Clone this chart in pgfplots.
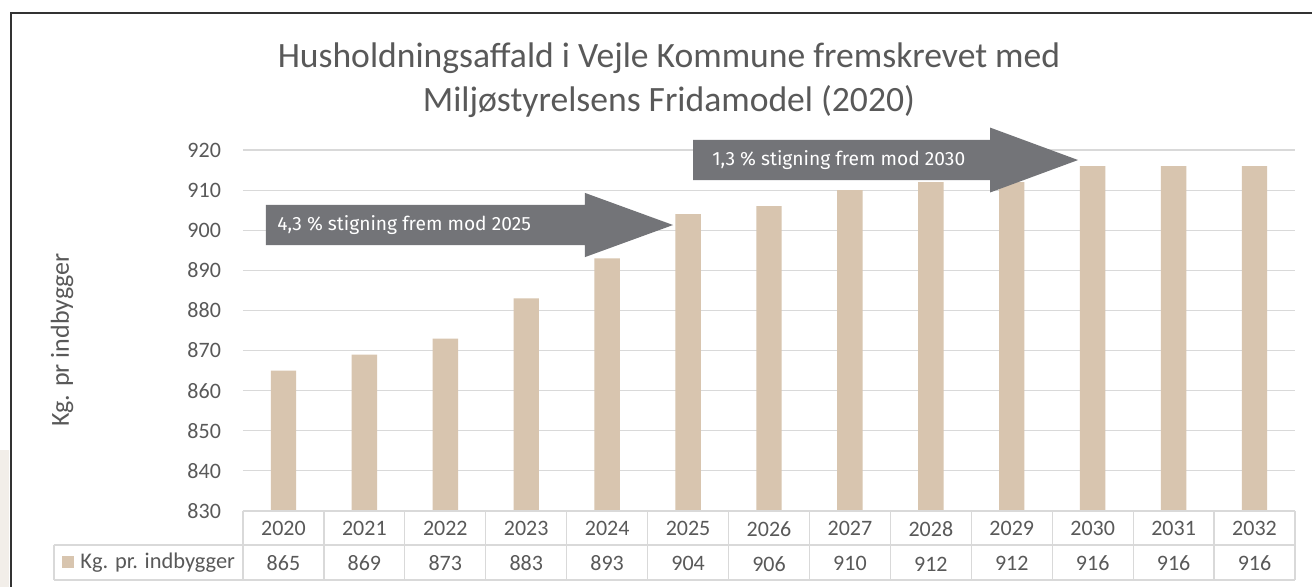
\documentclass[border=0pt]{standalone}
\usepackage{pgfplots}
\pgfplotsset{compat=1.18}
\usepackage{pgfplotstable}
\usepackage{fontspec}
\setmainfont{Carlito}
\newfontfamily\arrowfont{Fira Sans}
\definecolor{barc}{HTML}{D8C5AF}
\definecolor{txt}{HTML}{595959}
\definecolor{gridc}{HTML}{D9D9D9}
\definecolor{arrowc}{HTML}{737478}
\definecolor{framec}{HTML}{333333}
\definecolor{sidec}{HTML}{F2EEE9}

\pgfplotstableread{
i year v
0 2020 865
1 2021 869
2 2022 873
3 2023 883
4 2024 893
5 2025 904
6 2026 906
7 2027 910
8 2028 912
9 2029 912
10 2030 916
11 2031 916
12 2032 916
}\data

\begin{document}
\begin{tikzpicture}
\path[use as bounding box, fill=white] (-121.5pt,-38pt) rectangle (534.5pt,255.5pt);
\fill[sidec] (-121.5pt,-38pt) rectangle (-117pt,30.5pt);
\draw[line width=1.3pt, framec] (-116pt,-38pt) -- (-116pt,249pt) -- (534.5pt,249pt);
\begin{axis}[
  at={(0,0)}, anchor=south west,
  scale only axis, width=526pt, height=180.5pt,
  xmin=-0.5, xmax=12.5, ymin=830, ymax=920,
  ytick={830,840,...,920},
  xtick={0,...,12},
  xticklabel={\pgfplotstablegetelem{\ticknum}{year}\of\data\pgfplotsretval\\\pgfplotstablegetelem{\ticknum}{v}\of\data\pgfplotsretval},
  ymajorgrids, grid style={gridc, line width=0.6pt},
  axis line style={draw=none},
  tick style={draw=none},
  clip mode=individual,
  /pgf/number format/assume math mode=true,
  /pgf/number format/1000 sep={},
  tick label style={font=\fontsize{11}{17.25}\selectfont, text=txt},
  yticklabel style={xshift=-7.5pt},
  xticklabel style={align=center, anchor=north, yshift=-1.8pt},
]
\addplot[ybar, bar width=12.7pt, fill=barc, draw=none] table[x=i,y=v]{\data};
% table lines
\draw[gridc, line width=0.6pt] (axis cs:-0.5,830) -- (axis cs:12.5,830);
\draw[gridc, line width=0.6pt] (axis cs:-2.836,821.52) -- (axis cs:12.5,821.52);
\draw[gridc, line width=0.6pt] (axis cs:-2.836,812.8) -- (axis cs:12.5,812.8);
\draw[gridc, line width=0.6pt] (axis cs:-2.836,821.52) -- (axis cs:-2.836,812.8);
\pgfplotsinvokeforeach{-0.5,0.5,1.5,2.5,3.5,4.5,5.5,6.5,7.5,8.5,9.5,10.5,11.5,12.5}{
  \draw[gridc, line width=0.6pt] (axis cs:#1,830) -- (axis cs:#1,812.8);
}
\fill[barc] (axis cs:-2.737,818.78) rectangle (axis cs:-2.589,815.79);
\node[anchor=base west, inner sep=0pt, text=txt, font=\fontsize{11.2}{12}\selectfont] at (axis cs:-2.514,815.54) {Kg. pr. indbygger};
% y label
\node[rotate=90, text=txt, font=\fontsize{13}{15}\selectfont] at (axis cs:-2.737,872.6) {Kg. pr indbygger};
% title
\node[align=center, text=txt, font=\fontsize{17.8}{22}\selectfont] at (axis cs:4.764,937.4) {Husholdningsaffald i Vejle Kommune fremskrevet med\\Miljøstyrelsens Fridamodel (2020)};
% arrows
\fill[arrowc] (axis cs:-0.216,906.3) -- (axis cs:3.726,906.3) -- (axis cs:3.726,909.3) -- (axis cs:4.814,901.3) -- (axis cs:3.726,893.3) -- (axis cs:3.726,896.3) -- (axis cs:-0.216,896.3) -- cycle;
\node[anchor=west, inner sep=0pt, text=white, font=\arrowfont\fontsize{9.6}{11}\selectfont] at (axis cs:-0.08,901.3) {4,3 \% stigning frem mod 2025};
\fill[arrowc] (axis cs:5.061,922.5) -- (axis cs:8.731,922.5) -- (axis cs:8.731,925.6) -- (axis cs:9.819,917.5) -- (axis cs:8.731,909.4) -- (axis cs:8.731,912.5) -- (axis cs:5.061,912.5) -- cycle;
\node[anchor=west, inner sep=0pt, text=white, font=\arrowfont\fontsize{9.6}{11}\selectfont] at (axis cs:5.296,917.5) {1,3 \% stigning frem mod 2030};
\end{axis}
\end{tikzpicture}
\end{document}
